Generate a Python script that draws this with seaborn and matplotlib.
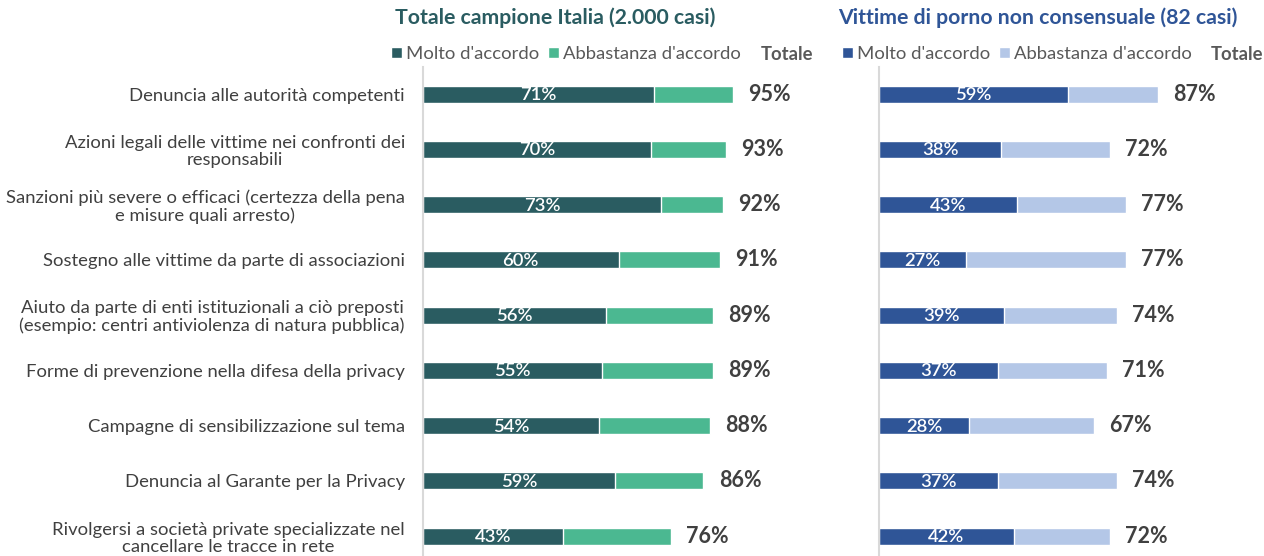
import matplotlib
matplotlib.use("Agg")
import matplotlib.pyplot as plt
from matplotlib.patches import Patch
import pandas as pd
import seaborn as sns

sns.set_style("white")
plt.rcParams['font.family'] = ['Lato', 'DejaVu Sans']

# Data
categories = [
    "Denuncia alle autorità competenti",
    "Azioni legali delle vittime nei confronti dei\nresponsabili",
    "Sanzioni più severe o efficaci (certezza della pena\ne misure quali arresto)",
    "Sostegno alle vittime da parte di associazioni",
    "Aiuto da parte di enti istituzionali a ciò preposti\n(esempio: centri antiviolenza di natura pubblica)",
    "Forme di prevenzione nella difesa della privacy",
    "Campagne di sensibilizzazione sul tema",
    "Denuncia al Garante per la Privacy",
    "Rivolgersi a società private specializzate nel\ncancellare le tracce in rete",
]
italia_molto = [71, 70, 73, 60, 56, 55, 54, 59, 43]
italia_totale = [95, 93, 92, 91, 89, 89, 88, 86, 76]
vittime_molto = [59, 38, 43, 27, 39, 37, 28, 37, 42]
vittime_totale = [87, 72, 77, 77, 74, 71, 67, 74, 72]

title_italia = "Totale campione Italia (2.000 casi)"
title_vittime = "Vittime di porno non consensuale (82 casi)"
legend_labels = ["Molto d'accordo", "Abbastanza d'accordo"]

TEXT = "#404040"
LEGEND_TEXT = "#595959"

fig = plt.figure(figsize=(12.64, 5.56), dpi=100)
ax_l = fig.add_axes([423 / 1264, 0, 326 / 1264, 489 / 556])
ax_r = fig.add_axes([879 / 1264, 0, 321 / 1264, 489 / 556])


def draw_panel(ax, molto, totale, dark, light, show_labels):
    df = pd.DataFrame({"cat": categories, "molto": molto, "totale": totale})
    sns.barplot(data=df, x="totale", y="cat", color=light, width=0.31,
                saturation=1, ax=ax, orient="h")
    sns.barplot(data=df, x="molto", y="cat", color=dark, width=0.31,
                saturation=1, ax=ax, orient="h")
    for i, (m, t) in enumerate(zip(molto, totale)):
        ax.text(m / 2, i + 0.02, f"{m}%", ha="center", va="center",
                color="white", fontsize=13.3, fontweight="semibold")
        ax.annotate(f"{t}%", (t, i), xytext=(11, 0), textcoords="offset points",
                    ha="left", va="center", color=TEXT, fontsize=15.5,
                    fontweight="bold")
    ax.set_xlim(0, 100)
    ax.set_ylim(8.36, -0.49)
    ax.set_xlabel("")
    ax.set_ylabel("")
    ax.set_xticks([])
    for s in ["top", "right", "bottom"]:
        ax.spines[s].set_visible(False)
    ax.spines["left"].set_color("#D9D9D9")
    ax.spines["left"].set_linewidth(1.5)
    ax.tick_params(axis="y", length=0, pad=13)
    if show_labels:
        ax.set_yticks(range(len(categories)))
        ax.set_yticklabels(categories, fontsize=13.3, color=TEXT)
        for lab in ax.get_yticklabels():
            lab.set_multialignment("center")
            lab.set_linespacing(1.1)
    else:
        ax.set_yticklabels([])


draw_panel(ax_l, italia_molto, italia_totale, "#2A5C61", "#4BB891", True)
draw_panel(ax_r, vittime_molto, vittime_totale, "#2F5597", "#B4C7E7", False)

# Titles
fig.text(555 / 1264, 1 - 18 / 556, title_italia, ha="center", va="center",
         color="#2A5C61", fontsize=15.3, fontweight="bold")
fig.text(1038 / 1264, 1 - 18 / 556, title_vittime, ha="center", va="center",
         color="#2F5597", fontsize=15.3, fontweight="bold")

# Legends
for x0, dark, light, xt in [(391, "#2A5C61", "#4BB891", 761),
                            (842, "#2F5597", "#B4C7E7", 1211)]:
    handles = [Patch(facecolor=dark), Patch(facecolor=light)]
    leg = fig.legend(handles, legend_labels, loc="center left",
                     bbox_to_anchor=(x0 / 1264, 1 - 54 / 556), ncol=2,
                     frameon=False, borderpad=0, borderaxespad=0,
                     handlelength=0.6, handleheight=0.6, handletextpad=0.2,
                     columnspacing=0.5, fontsize=13.3)
    for t in leg.get_texts():
        t.set_color(LEGEND_TEXT)
    fig.text(xt / 1264, 1 - 54 / 556, "Totale", ha="left", va="center",
             color=LEGEND_TEXT, fontsize=13.3, fontweight="bold")

fig.savefig("out.png", dpi=100)
